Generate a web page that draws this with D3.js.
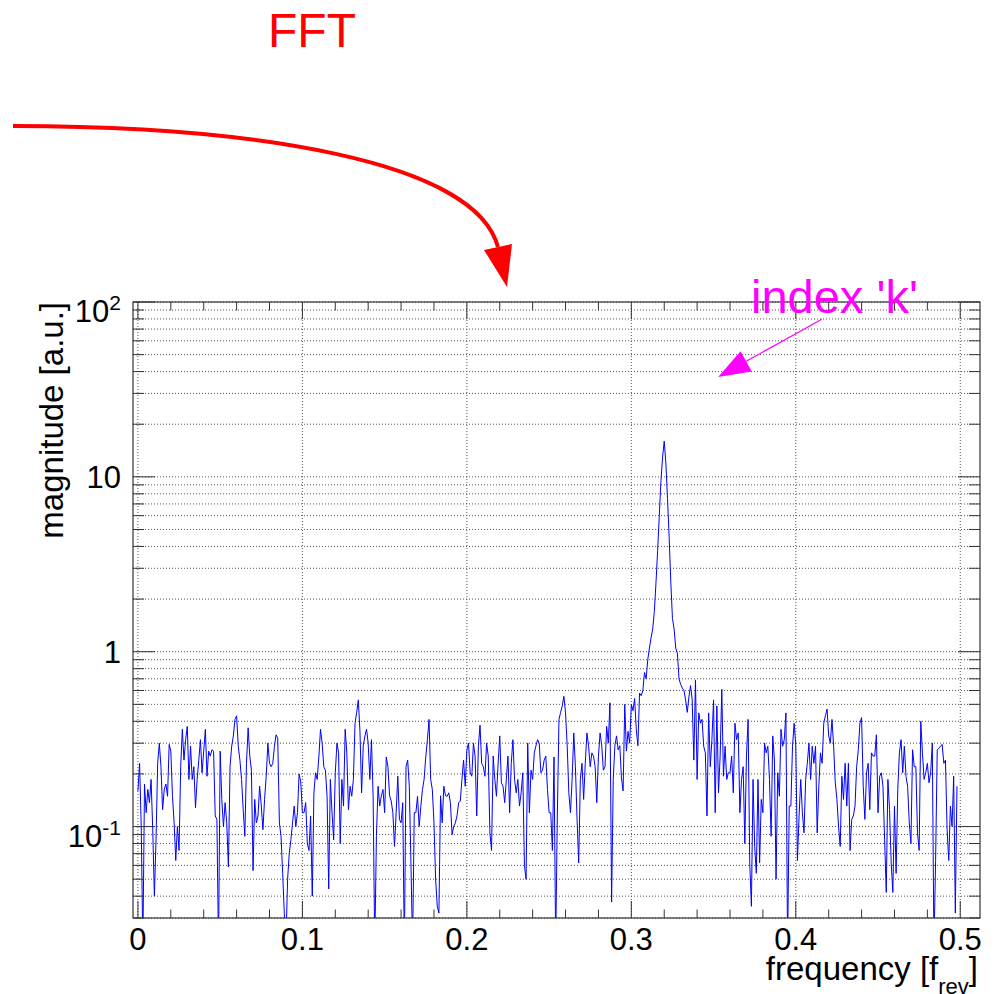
<!DOCTYPE html>
<html>
<head>
<meta charset="utf-8">
<script src="https://cdn.jsdelivr.net/npm/d3@7"></script>
<style>
  body { margin: 0; background: #fff; }
  svg { display: block; font-family: "Liberation Sans", Arial, Helvetica, sans-serif; }
</style>
</head>
<body>
<div id="my_dataviz"></div>
<script>
// spectrum: one magnitude per frequency bin, bins start at 0 and are 0.001 f_rev apart
var freqStart = 0;
var freqStep = 0.001;
var magnitude = [
  // 0.000 - 0.099
  0.16, 0.23, 0.1, 0.02, 0.175, 0.12, 0.163, 0.137, 0.186, 0.096,
  0.04, 0.084, 0.23, 0.3, 0.22, 0.125, 0.163, 0.175, 0.149, 0.295,
  0.27, 0.149, 0.105, 0.064, 0.1, 0.073, 0.22, 0.36, 0.24, 0.314,
  0.374, 0.186, 0.288, 0.186, 0.22, 0.128, 0.186, 0.24, 0.314, 0.203,
  0.27, 0.36, 0.194, 0.27, 0.253, 0.275, 0.27, 0.115, 0.11, 0.02,
  0.27, 0.143, 0.1, 0.137, 0.105, 0.059, 0.22, 0.288, 0.33, 0.41,
  0.43, 0.288, 0.24, 0.186, 0.125, 0.088, 0.23, 0.367, 0.253, 0.21,
  0.056, 0.143, 0.105, 0.115, 0.17, 0.131, 0.096, 0.143, 0.194, 0.3,
  0.23, 0.22, 0.23, 0.288, 0.335, 0.32, 0.105, 0.088, 0.054, 0.032,
  0.022, 0.05, 0.07, 0.084, 0.105, 0.131, 0.1, 0.12, 0.2, 0.18,
  // 0.100 - 0.196
  0.12, 0.12, 0.137, 0.08, 0.073, 0.115, 0.04, 0.156, 0.203, 0.186,
  0.25, 0.36, 0.3, 0.22, 0.21, 0.149, 0.044, 0.186, 0.12, 0.084,
  0.203, 0.3, 0.264, 0.08, 0.186, 0.131, 0.36, 0.264, 0.125, 0.17,
  0.149, 0.186, 0.39, 0.45, 0.53, 0.35, 0.156, 0.29, 0.33, 0.36,
  0.3, 0.186, 0.314, 0.149, 0.02, 0.088, 0.17, 0.131, 0.15, 0.163,
  0.12, 0.25, 0.22, 0.15, 0.14, 0.12, 0.077, 0.12, 0.194, 0.11,
  0.105, 0.137, 0.02, 0.22, 0.24, 0.17, 0.062, 0.02, 0.12, 0.12,
  0.149, 0.1, 0.13, 0.163, 0.186, 0.25, 0.314, 0.41, 0.186, 0.163,
  0.105, 0.05, 0.035, 0.032, 0.15, 0.105, 0.17, 0.15, 0.149, 0.156,
  0.137, 0.09, 0.1, 0.105, 0.115, 0.137, 0.14,
  // 0.197 - 0.292
  0.186, 0.24, 0.17, 0.275, 0.3, 0.203, 0.194, 0.3, 0.253, 0.115,
  0.288, 0.38, 0.23, 0.22, 0.194, 0.3, 0.253, 0.092, 0.073, 0.253,
  0.186, 0.149, 0.23, 0.33, 0.178, 0.17, 0.137, 0.186, 0.253, 0.12,
  0.23, 0.314, 0.186, 0.156, 0.186, 0.131, 0.156, 0.203, 0.06, 0.05,
  0.3, 0.12, 0.21, 0.186, 0.264, 0.29, 0.314, 0.3, 0.203, 0.21,
  0.24, 0.253, 0.163, 0.12, 0.12, 0.073, 0.25, 0.02, 0.115, 0.41,
  0.45, 0.49, 0.556, 0.447, 0.29, 0.156, 0.12, 0.186, 0.343, 0.22,
  0.11, 0.062, 0.186, 0.23, 0.143, 0.23, 0.343, 0.29, 0.22, 0.264,
  0.253, 0.22, 0.137, 0.253, 0.343, 0.29, 0.21, 0.22, 0.374, 0.3,
  0.51, 0.037, 0.186, 0.29, 0.33, 0.275,
  // 0.293 - 0.329, the peak
  0.29, 0.19, 0.16, 0.5, 0.27, 0.35, 0.3, 0.5, 0.46, 0.54,
  0.36, 0.29, 0.58, 0.56, 0.6, 0.76, 0.7, 0.9, 1.05, 1.2,
  1.35, 1.7, 2.5, 3.8, 6.0, 9.5, 13, 16, 12, 7.5,
  4.5, 2.5, 1.55, 1.35, 1.05, 0.98, 0.7,
  // 0.330 - 0.420
  0.65, 0.62, 0.6, 0.53, 0.45, 0.55, 0.64, 0.53, 0.24, 0.69,
  0.186, 0.447, 0.39, 0.41, 0.288, 0.264, 0.115, 0.447, 0.22, 0.314,
  0.53, 0.12, 0.49, 0.156, 0.253, 0.61, 0.194, 0.288, 0.186, 0.203,
  0.203, 0.253, 0.156, 0.39, 0.314, 0.343, 0.12, 0.186, 0.22, 0.08,
  0.253, 0.41, 0.062, 0.035, 0.186, 0.077, 0.054, 0.186, 0.062, 0.143,
  0.12, 0.3, 0.264, 0.288, 0.186, 0.088, 0.33, 0.24, 0.05, 0.203,
  0.149, 0.36, 0.288, 0.314, 0.447, 0.02, 0.131, 0.131, 0.288, 0.39,
  0.288, 0.064, 0.115, 0.186, 0.12, 0.092, 0.186, 0.23, 0.3, 0.186,
  0.288, 0.23, 0.288, 0.092, 0.17, 0.264, 0.23, 0.39, 0.43, 0.47,
  0.33,
  // 0.421 - 0.498
  0.3, 0.41, 0.288, 0.178, 0.143, 0.1, 0.077, 0.194, 0.143, 0.23,
  0.131, 0.23, 0.073, 0.11, 0.115, 0.131, 0.22, 0.275, 0.39, 0.42,
  0.17, 0.11, 0.203, 0.23, 0.125, 0.264, 0.253, 0.253, 0.335, 0.12,
  0.194, 0.203, 0.17, 0.084, 0.042, 0.186, 0.125, 0.062, 0.042, 0.131,
  0.054, 0.163, 0.264, 0.314, 0.203, 0.288, 0.194, 0.17, 0.105, 0.08,
  0.275, 0.22, 0.22, 0.092, 0.073, 0.4, 0.264, 0.186, 0.203, 0.23,
  0.178, 0.203, 0.3, 0.02, 0.064, 0.275, 0.28, 0.288, 0.295, 0.23,
  0.24, 0.096, 0.064, 0.131, 0.1, 0.194, 0.032, 0.17
];

// axis ticks
var xTickValues = [0, 0.1, 0.2, 0.3, 0.4, 0.5];
var xTickLabels = ["0", "0.1", "0.2", "0.3", "0.4", "0.5"];
var yTickValues = [0.1, 1, 10, 100];
var yTickBase = ["10", "1", "10", "10"];
var yTickExp = ["-1", "", "", "2"];

// the "index 'k'" arrow, in data units [frequency, magnitude]
var indexArrowFrom = [0.4158, 79.6];
var indexArrowTo = [0.3528, 37.3];

// set the dimensions and margins of the graph
var W = 999, H = 994;
var margin = {top: 302, right: 19, bottom: 76, left: 133},
    width = W - margin.left - margin.right,
    height = H - margin.top - margin.bottom;

var svg = d3.select("#my_dataviz")
  .append("svg")
    .attr("width", W)
    .attr("height", H);

var g = svg.append("g")
    .attr("transform", "translate(" + margin.left + "," + margin.top + ")");

var x = d3.scaleLinear()
  .domain([-0.003, 0.512])
  .range([0, width]);

var y = d3.scaleLog()
  .domain([0.03, 100])
  .range([height, 0]);

// minor ticks
var xMinor = d3.range(0, 0.5001, 0.02).filter(function(v) {
  return Math.abs(v * 10 - Math.round(v * 10)) > 1e-6;
});
var yMinor = [];
[0.01, 0.1, 1, 10].forEach(function(dec) {
  for (var k = 2; k <= 9; k++) {
    var v = k * dec;
    if (v >= 0.0299 && v <= 100.01) yMinor.push(v);
  }
});

// grid
var gridColor = "#555";
g.selectAll(".hgrid")
  .data(yMinor.concat(yTickValues))
  .enter()
  .append("line")
    .attr("x1", 0).attr("x2", width)
    .attr("y1", function(d) { return y(d); })
    .attr("y2", function(d) { return y(d); })
    .attr("stroke", gridColor)
    .attr("stroke-width", 1)
    .attr("stroke-dasharray", "1,2");
g.selectAll(".vgrid")
  .data(xTickValues)
  .enter()
  .append("line")
    .attr("y1", 0).attr("y2", height)
    .attr("x1", function(d) { return x(d); })
    .attr("x2", function(d) { return x(d); })
    .attr("stroke", gridColor)
    .attr("stroke-width", 1)
    .attr("stroke-dasharray", "1,2");

// clip for the spectrum
svg.append("defs").append("clipPath")
    .attr("id", "plotclip")
  .append("rect")
    .attr("width", width)
    .attr("height", height);

var line = d3.line()
  .x(function(d, i) { return x(freqStart + i * freqStep); })
  .y(function(d) { return y(d); });

g.append("path")
  .datum(magnitude)
  .attr("clip-path", "url(#plotclip)")
  .attr("fill", "none")
  .attr("stroke", "#0000ff")
  .attr("stroke-width", 1)
  .attr("d", line);

// frame
var axisColor = "#333";
g.append("rect")
  .attr("width", width)
  .attr("height", height)
  .attr("fill", "none")
  .attr("stroke", axisColor)
  .attr("stroke-width", 1.2);

// x ticks, bottom and top
function xTick(vals, len) {
  vals.forEach(function(v) {
    g.append("line")
      .attr("x1", x(v)).attr("x2", x(v))
      .attr("y1", height).attr("y2", height - len)
      .attr("stroke", axisColor);
    g.append("line")
      .attr("x1", x(v)).attr("x2", x(v))
      .attr("y1", 0).attr("y2", len)
      .attr("stroke", axisColor);
  });
}
xTick(xTickValues, 17);
xTick(xMinor, 8.5);

// y ticks, left and right
function yTick(vals, len) {
  vals.forEach(function(v) {
    g.append("line")
      .attr("x1", 0).attr("x2", len)
      .attr("y1", y(v)).attr("y2", y(v))
      .attr("stroke", axisColor);
    g.append("line")
      .attr("x1", width).attr("x2", width - len)
      .attr("y1", y(v)).attr("y2", y(v))
      .attr("stroke", axisColor);
  });
}
yTick(yTickValues, 22);
yTick(yMinor, 11);

// tick labels
g.selectAll(".xlab")
  .data(xTickValues)
  .enter()
  .append("text")
    .attr("x", function(d) { return x(d); })
    .attr("y", height + 32)
    .attr("text-anchor", "middle")
    .attr("font-size", 31)
    .attr("fill", "#000")
    .text(function(d, i) { return xTickLabels[i]; });

yTickValues.forEach(function(v, i) {
  var t = g.append("text")
    .attr("x", -12)
    .attr("y", y(v) + (yTickExp[i] ? 20 : 11))
    .attr("text-anchor", "end")
    .attr("font-size", 31)
    .attr("fill", "#000")
    .text(yTickBase[i]);
  if (yTickExp[i]) {
    t.append("tspan")
      .attr("dy", -12)
      .attr("font-size", 21)
      .text(yTickExp[i]);
  }
});

// axis titles
var xt = svg.append("text")
  .attr("x", margin.left + width - 2)
  .attr("y", 980)
  .attr("text-anchor", "end")
  .attr("font-size", 33)
  .attr("fill", "#000")
  .text("frequency [f");
xt.append("tspan").attr("dy", 14).attr("font-size", 22).text("rev");
xt.append("tspan").attr("dy", -14).attr("font-size", 33).text("]");

svg.append("text")
  .attr("transform", "translate(63," + margin.top + ") rotate(-90)")
  .attr("text-anchor", "end")
  .attr("font-size", 33)
  .attr("fill", "#000")
  .text("magnitude [a.u.]");

// FFT annotation with the curved red arrow
svg.append("text")
  .attr("x", 268)
  .attr("y", 47)
  .attr("font-size", 48)
  .attr("fill", "#ff0000")
  .text("FFT");

svg.append("path")
  .attr("d", "M13,126 C250,126 475,160 498,247")
  .attr("fill", "none")
  .attr("stroke", "#ff0000")
  .attr("stroke-width", 4);
svg.append("path")
  .attr("d", "M507,287 L484,250 L512,244 Z")
  .attr("fill", "#ff0000");

// index 'k' label and arrow
svg.append("text")
  .attr("x", 751)
  .attr("y", 313)
  .attr("font-size", 47)
  .attr("fill", "#ff00ff")
  .text("index 'k'");

var ax0 = margin.left + x(indexArrowFrom[0]), ay0 = margin.top + y(indexArrowFrom[1]);
var ax1 = margin.left + x(indexArrowTo[0]), ay1 = margin.top + y(indexArrowTo[1]);
var dx = ax1 - ax0, dy = ay1 - ay0, dl = Math.sqrt(dx * dx + dy * dy);
var ux = dx / dl, uy = dy / dl;
var headLen = 32, headHalf = 11.5;
var bx = ax1 - ux * headLen, by = ay1 - uy * headLen;
svg.append("line")
  .attr("x1", ax0).attr("y1", ay0)
  .attr("x2", bx).attr("y2", by)
  .attr("stroke", "#ff00ff")
  .attr("stroke-width", 1.2);
svg.append("path")
  .attr("d", "M" + ax1 + "," + ay1 +
             " L" + (bx - uy * headHalf) + "," + (by + ux * headHalf) +
             " L" + (bx + uy * headHalf) + "," + (by - ux * headHalf) + " Z")
  .attr("fill", "#ff00ff");
</script>
</body>
</html>
